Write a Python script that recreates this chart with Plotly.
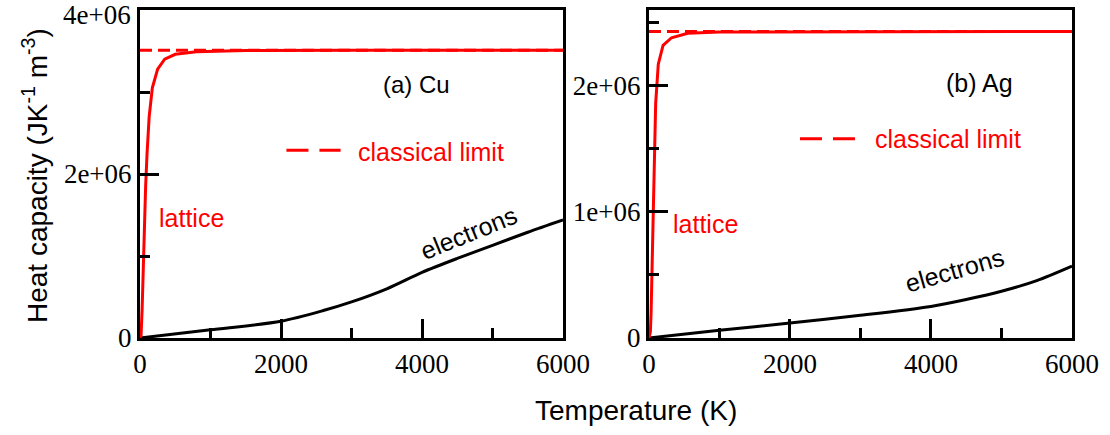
import plotly.graph_objects as go

# Temperature grid (K) and heat capacities (J K^-1 m^-3)
cu_lattice_T = [0, 15, 30, 45, 60, 80, 100, 130, 175, 250, 350, 500, 800, 1500, 3000, 6000]
cu_lattice_C = [0, 0.03e6, 0.35e6, 0.85e6, 1.35e6, 1.85e6, 2.25e6, 2.70e6, 3.05e6,
                3.28e6, 3.40e6, 3.46e6, 3.49e6, 3.505e6, 3.51e6, 3.51e6]
cu_elec_T = [0, 1000, 2000, 2600, 3000, 3500, 4000, 4500, 5000, 5500, 6000]
cu_elec_C = [0, 0.10e6, 0.205e6, 0.335e6, 0.44e6, 0.60e6, 0.80e6, 0.97e6, 1.13e6, 1.29e6, 1.44e6]
cu_classical = 3.51e6

ag_lattice_T = [0, 20, 30, 47, 71, 95, 132, 200, 320, 550, 1000, 6000]
ag_lattice_C = [0, 0.05e6, 0.20e6, 0.67e6, 1.33e6, 1.86e6, 2.17e6, 2.32e6, 2.38e6,
                2.415e6, 2.425e6, 2.43e6]
ag_elec_T = [0, 1000, 2000, 3000, 4000, 4500, 5000, 5500, 6000]
ag_elec_C = [0, 0.061e6, 0.119e6, 0.18e6, 0.25e6, 0.305e6, 0.37e6, 0.455e6, 0.57e6]
ag_classical = 2.43e6

T_range = [0, 6000]
T_ticks = [0, 2000, 4000, 6000]
T_minor = [1000, 3000, 5000]
cu_C_ticks = [0, 2e6, 4e6]
cu_C_labels = ["0", "2e+06", "4e+06"]
ag_C_ticks = [0, 1e6, 2e6]
ag_C_labels = ["0", "1e+06", "2e+06"]

RED = "#ff0000"
BLACK = "#000000"
SANS = "Liberation Sans, Arial, sans-serif"
SERIF = "Liberation Serif, Times New Roman, serif"
LINE_DASH = "12px,6px"
KEY_DASH = "22px,11px"

fig = go.Figure()

panels = [
    ("x", "y", cu_lattice_T, cu_lattice_C, cu_elec_T, cu_elec_C, cu_classical),
    ("x2", "y2", ag_lattice_T, ag_lattice_C, ag_elec_T, ag_elec_C, ag_classical),
]
for xa, ya, lT, lC, eT, eC, cl in panels:
    fig.add_trace(go.Scatter(x=T_range, y=[cl, cl], mode="lines", xaxis=xa, yaxis=ya,
                             line=dict(color=RED, width=3, dash=LINE_DASH), showlegend=False,
                             hoverinfo="skip"))
    fig.add_trace(go.Scatter(x=eT, y=eC, mode="lines", xaxis=xa, yaxis=ya,
                             line=dict(color=BLACK, width=3, shape="spline", smoothing=0.8),
                             showlegend=False))
    fig.add_trace(go.Scatter(x=lT, y=lC, mode="lines", xaxis=xa, yaxis=ya,
                             line=dict(color=RED, width=3), showlegend=False))

TICK_FONT = dict(family=SERIF, size=27, color=BLACK)
axis_common = dict(
    showline=True, linecolor=BLACK, linewidth=3, mirror=True,
    ticks="inside", ticklen=19, tickwidth=2.5, tickcolor=BLACK,
    showgrid=False, zeroline=False, ticklabeloverflow="allow", automargin=False,
    tickfont=TICK_FONT,
)
minor_common = dict(ticks="inside", ticklen=10, tickwidth=2.5, tickcolor=BLACK, showgrid=False)

# The top label of the Cu axis sits at the page edge, so it is drawn as its own text
cu_top_label = cu_C_labels[-1]
cu_axis_labels = cu_C_labels[:-1] + [""]

fig.update_layout(
    template="none",
    width=1110, height=435,
    margin=dict(l=140, r=38, t=10, b=97, autoexpand=False),
    paper_bgcolor="white", plot_bgcolor="white",
    showlegend=False,
    xaxis=dict(domain=[0, 0.4539], range=T_range, tickvals=T_ticks,
               ticktext=[str(t) for t in T_ticks],
               minor=dict(tickvals=T_minor, **minor_common), anchor="y", **axis_common),
    yaxis=dict(range=[0, 4e6], tickvals=cu_C_ticks, ticktext=cu_axis_labels,
               minor=dict(tickvals=[1e6, 3e6], **minor_common), anchor="x", **axis_common),
    xaxis2=dict(domain=[0.5461, 1], range=T_range, tickvals=T_ticks,
                ticktext=[str(t) for t in T_ticks],
                minor=dict(tickvals=T_minor, **minor_common), anchor="y2", **axis_common),
    yaxis2=dict(range=[0, 2.6e6], tickvals=ag_C_ticks, ticktext=ag_C_labels,
                minor=dict(tickvals=[0.5e6, 1.5e6, 2.5e6], **minor_common),
                anchor="x2", **axis_common),
)

LABEL_SIZE = 25
ann_font = dict(family=SANS, size=LABEL_SIZE, color=BLACK)
red_font = dict(family=SANS, size=LABEL_SIZE, color=RED)
title_font = dict(family=SANS, size=28, color=BLACK)

# Plot-area size in pixels, used to place text outside the panels
plot_w = 1110 - 140 - 38
plot_h = 435 - 10 - 97

annotations = [
    dict(x=3915, y=3.09e6, xref="x", yref="y", text="(a) Cu",
         font=dict(family=SANS, size=24, color=BLACK)),
    dict(x=730, y=1.46e6, xref="x", yref="y", text="lattice", font=red_font),
    dict(x=4655, y=1.28e6, xref="x", yref="y", text="electrons", font=ann_font, textangle=-22),
    dict(x=3058, y=2.265e6, xref="x", yref="y", text="classical limit", font=red_font,
         xanchor="left"),
    dict(x=4695, y=2.02e6, xref="x2", yref="y2", text="(b) Ag", font=ann_font),
    dict(x=808, y=0.907e6, xref="x2", yref="y2", text="lattice", font=red_font),
    dict(x=4340, y=0.536e6, xref="x2", yref="y2", text="electrons", font=ann_font, textangle=-16),
    dict(x=3177, y=1.58e6, xref="x2", yref="y2", text="classical limit", font=red_font,
         xanchor="left"),
    dict(x=(636 - 140) / plot_w, y=(338 - 410) / plot_h, xref="paper", yref="paper",
         text="Temperature (K)", font=title_font, xanchor="center", yanchor="middle"),
    dict(x=(35 - 140) / plot_w, y=(338 - 176) / plot_h, xref="paper", yref="paper",
         text="Heat capacity (JK<sup>-1</sup> m<sup>-3</sup>)", textangle=-90,
         font=title_font, xanchor="center", yanchor="middle"),
    dict(x=(132 - 140) / plot_w, y=(338 + 1) / plot_h, xref="paper", yref="paper",
         text=cu_top_label, font=TICK_FONT, xanchor="right", yanchor="top", borderpad=0),
]
for a in annotations:
    a["showarrow"] = False
fig.update_layout(annotations=annotations)

# Dashed key samples next to the "classical limit" labels
fig.add_shape(type="line", xref="x", yref="y", x0=2077, x1=2845, y0=2.29e6, y1=2.29e6,
              line=dict(color=RED, width=3, dash=KEY_DASH))
fig.add_shape(type="line", xref="x2", yref="y2", x0=2142, x1=2965, y0=1.58e6, y1=1.58e6,
              line=dict(color=RED, width=3, dash=KEY_DASH))

fig.write_html("out.html")
